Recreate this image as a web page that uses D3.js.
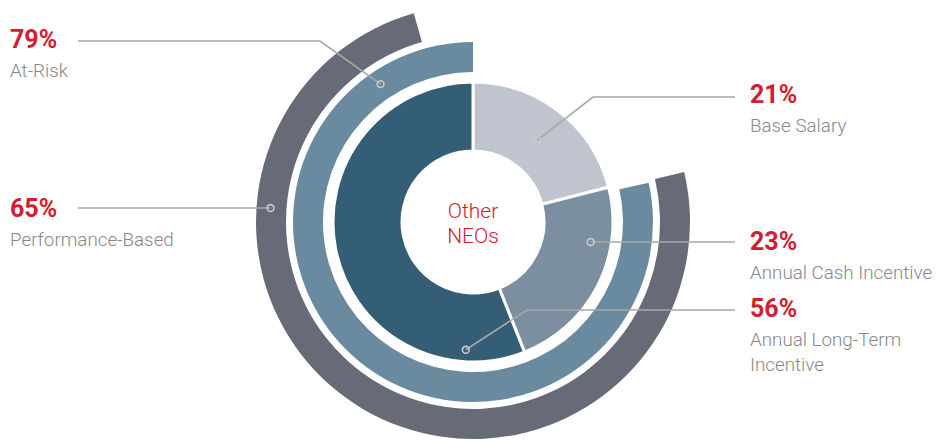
<!DOCTYPE html>
<html>
<head>
<meta charset="utf-8">
<script src="https://cdn.jsdelivr.net/npm/d3@7"></script>
<style>
  body { margin: 0; background: #fff; }
  svg { display: block; font-family: Roboto, "Liberation Sans", sans-serif; }
</style>
</head>
<body>
<div id="chart"></div>
<script>
// Pay mix for Other NEOs (percent)
const segLabels = ['Base Salary', 'Annual Cash Incentive', 'Annual Long-Term Incentive'];
const segValues = [21, 23, 56];
const segColors = ['#bfc4cf', '#7c8fa1', '#345e75'];

// outer rings
const ringLabels = ['At-Risk', 'Performance-Based'];
const ringValues = [79, 65];
// how far each ring is drawn round the circle, in percent
const ringFrom = [21.5, 21.3];
const ringTo = [100, 95.6];
const ringColors = ['#6a8aa0', '#676a77'];

const width = 941,
  height = 441;
const cx = 473,
  cy = 222;

const svg = d3
  .select('#chart')
  .append('svg')
  .attr('width', width)
  .attr('height', height);

// percent of circle -> radians, clockwise from 12 o'clock
const angle = d3.scaleLinear().domain([0, 100]).range([0, 2 * Math.PI]);

const g = svg.append('g').attr('transform', `translate(${cx},${cy})`);

// inner donut
const pie = d3.pie().sort(null).value((d) => d)
  .startAngle(angle(0)).endAngle(angle(100));
const innerArc = d3.arc().innerRadius(71).outerRadius(140);

g.selectAll('path.seg')
  .data(pie(segValues))
  .join('path')
  .attr('class', 'seg')
  .attr('d', innerArc)
  .attr('fill', (d, i) => segColors[i])
  .attr('stroke', '#fff')
  .attr('stroke-width', 3);

// rings
const ringRadii = [[150, 180], [187, 217]];
g.selectAll('path.ring')
  .data(ringValues)
  .join('path')
  .attr('class', 'ring')
  .attr('d', (d, i) =>
    d3.arc()({
      innerRadius: ringRadii[i][0],
      outerRadius: ringRadii[i][1],
      startAngle: angle(ringFrom[i]),
      endAngle: angle(ringTo[i]),
    })
  )
  .attr('fill', (d, i) => ringColors[i]);

// centre label
g.append('text')
  .attr('text-anchor', 'middle')
  .attr('fill', '#d0202f')
  .style('font-size', '21px')
  .style('font-weight', 300)
  .selectAll('tspan')
  .data(['Other', 'NEOs'])
  .join('tspan')
  .attr('x', 0)
  .attr('y', (d, i) => -4 + i * 25)
  .text((d) => d);

// callouts: anchor given in polar form (percent round, radius)
const polar = (pct, r) => [cx + r * Math.sin(angle(pct)), cy - r * Math.cos(angle(pct))];

const callouts = [
  { value: ringValues[0], label: [ringLabels[0]], anchor: polar(90.6, 166), side: 'left', lineY: 41, bendX: 320, textY: 48 },
  { value: ringValues[1], label: [ringLabels[1]], anchor: polar(76.1, 203), side: 'left', lineY: 208, bendX: null, textY: 217 },
  { value: segValues[0], label: [segLabels[0]], anchor: polar(10.6, 104), side: 'right', lineY: 97, bendX: 593, textY: 103 },
  { value: segValues[1], label: [segLabels[1]], anchor: polar(27.4, 119), side: 'right', lineY: 242, bendX: null, textY: 250 },
  { value: segValues[2], label: ['Annual Long-Term', 'Incentive'], anchor: polar(50.9, 128), side: 'right', lineY: 310, bendX: 527, textY: 317 },
];

const lineColor = '#a8a8a8';

callouts.forEach((c) => {
  const endX = c.side === 'left' ? 78 : 735;
  let pts = [c.anchor];
  if (c.bendX != null) pts.push([c.bendX, c.lineY]);
  else pts[0] = [c.anchor[0], c.lineY];
  pts.push([endX, c.lineY]);

  svg.append('path')
    .attr('d', d3.line()(pts))
    .attr('fill', 'none')
    .attr('stroke', lineColor)
    .attr('stroke-width', 1.6);

  svg.append('circle')
    .attr('cx', pts[0][0])
    .attr('cy', pts[0][1])
    .attr('r', 3.4)
    .attr('fill', 'none')
    .attr('stroke', '#c8cacf')
    .attr('stroke-width', 1.6);

  const tx = c.side === 'left' ? 10 : 750;
  svg.append('text')
    .attr('x', tx)
    .attr('y', c.textY)
    .attr('fill', '#d0202f')
    .style('font-size', '25px')
    .style('font-weight', 700)
    .text(`${c.value}%`);

  svg.append('text')
    .attr('fill', '#878787')
    .style('font-size', '18.8px')
    .style('font-weight', 300)
    .selectAll('tspan')
    .data(c.label)
    .join('tspan')
    .attr('x', tx)
    .attr('y', (d, i) => c.textY + 29 + i * 25)
    .text((d) => d);
});
</script>
</body>
</html>
